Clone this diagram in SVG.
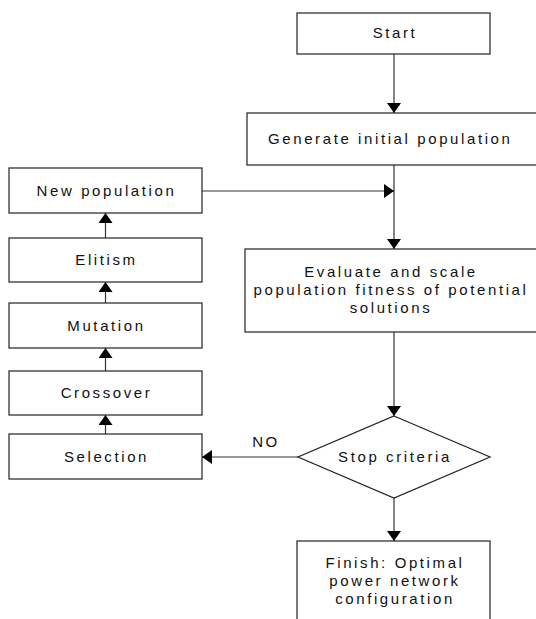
<svg xmlns="http://www.w3.org/2000/svg" width="536" height="619" viewBox="0 0 536 619">
<defs>
<style>
.box{fill:#fff;stroke:#222;stroke-width:1.2}
.t{font-family:"Liberation Sans",Arial,sans-serif;font-size:15px;letter-spacing:2.6px;fill:#111;text-anchor:middle}
.c{fill:none;stroke:#333;stroke-width:1.2}
</style>
<marker id="ah" markerWidth="10" markerHeight="14" refX="10" refY="7" orient="auto" markerUnits="userSpaceOnUse">
<path d="M0,0 L10,7 L0,14 Z" fill="#000"/>
</marker>
</defs>
<rect width="536" height="619" fill="#fff"/>
<g id="connectors">
<line class="c" x1="394" y1="54" x2="394" y2="113" marker-end="url(#ah)"/>
<line class="c" x1="394" y1="165" x2="394" y2="249" marker-end="url(#ah)"/>
<line class="c" x1="202" y1="191" x2="394" y2="191" marker-end="url(#ah)"/>
<line class="c" x1="394" y1="332" x2="394" y2="416" marker-end="url(#ah)"/>
<line class="c" x1="394" y1="498" x2="394" y2="541" marker-end="url(#ah)"/>
<line class="c" x1="298" y1="457" x2="202" y2="457" marker-end="url(#ah)"/>
<line class="c" x1="105.5" y1="434" x2="105.5" y2="415" marker-end="url(#ah)"/>
<line class="c" x1="105.5" y1="371" x2="105.5" y2="348" marker-end="url(#ah)"/>
<line class="c" x1="105.5" y1="303" x2="105.5" y2="282" marker-end="url(#ah)"/>
<line class="c" x1="105.5" y1="238" x2="105.5" y2="213" marker-end="url(#ah)"/>
<text class="t" x="266" y="447">NO</text>
</g>
<g id="start"><rect class="box" x="297" y="13" width="193" height="41"/><text class="t" x="395" y="38">Start</text></g>
<g id="generate"><rect class="box" x="247" y="113" width="295" height="52"/><text class="t" x="268" y="144" style="text-anchor:start">Generate initial population</text></g>
<g id="evaluate"><rect class="box" x="245" y="249" width="297" height="83"/>
<text class="t" x="391" y="277">Evaluate and scale</text>
<text class="t" x="391" y="295">population fitness of potential</text>
<text class="t" x="391" y="313">solutions</text></g>
<g id="stop"><polygon class="box" points="394,416 490,457 394,498 298,457"/><text class="t" x="395" y="462">Stop criteria</text></g>
<g id="finish"><rect class="box" x="297" y="541" width="193" height="90"/>
<text class="t" x="395" y="568">Finish: Optimal</text>
<text class="t" x="395" y="586">power network</text>
<text class="t" x="395" y="604">configuration</text></g>
<g id="newpop"><rect class="box" x="9" y="168" width="193" height="45"/><text class="t" x="106.5" y="196">New population</text></g>
<g id="elitism"><rect class="box" x="9" y="238" width="193" height="44"/><text class="t" x="106.5" y="265">Elitism</text></g>
<g id="mutation"><rect class="box" x="9" y="303" width="193" height="45"/><text class="t" x="106.5" y="331">Mutation</text></g>
<g id="crossover"><rect class="box" x="9" y="371" width="193" height="44"/><text class="t" x="106.5" y="398">Crossover</text></g>
<g id="selection"><rect class="box" x="9" y="434" width="193" height="45"/><text class="t" x="106.5" y="462">Selection</text></g>
</svg>
